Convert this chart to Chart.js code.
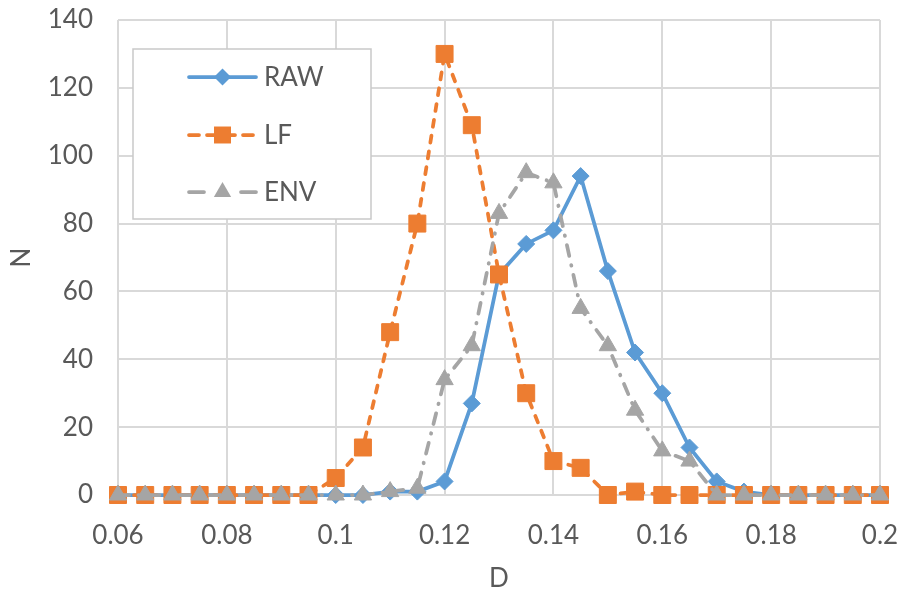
<!DOCTYPE html>
<html>
<head>
<meta charset="utf-8">
<script src="https://cdn.jsdelivr.net/npm/chart.js"></script>
<style>
  html, body { margin: 0; padding: 0; background: #fff; }
</style>
</head>
<body>
<canvas id="Chart" width="902" height="594"></canvas>
<script>
// D values (x positions)
const dValues = [0.06, 0.065, 0.07, 0.075, 0.08, 0.085, 0.09, 0.095, 0.1, 0.105,
  0.11, 0.115, 0.12, 0.125, 0.13, 0.135, 0.14, 0.145, 0.15, 0.155,
  0.16, 0.165, 0.17, 0.175, 0.18, 0.185, 0.19, 0.195, 0.2];

const rawValues = [0, 0, 0, 0, 0, 0, 0, 0, 0, 0,
  1, 1, 4, 27, 65, 74, 78, 94, 66, 42,
  30, 14, 4, 1, 0, 0, 0, 0, 0];

const lfValues = [0, 0, 0, 0, 0, 0, 0, 0, 5, 14,
  48, 80, 130, 109, 65, 30, 10, 8, 0, 1,
  0, 0, 0, 0, 0, 0, 0, 0, 0];

const envValues = [0, 0, 0, 0, 0, 0, 0, 0, 0, 0,
  1, 2, 34, 44, 83, 95, 92, 55, 44, 25,
  13, 10, 0, 0, 0, 0, 0, 0, 0];

const seriesNames = ['RAW', 'LF', 'ENV'];
const xTicks = [0.06, 0.08, 0.1, 0.12, 0.14, 0.16, 0.18, 0.2];
const yTicks = [0, 20, 40, 60, 80, 100, 120, 140];

const FONT = 'Lato, "Open Sans", sans-serif';
const TEXT = '#595959';

function toPoints(values) {
  return dValues.map((d, i) => ({ x: d, y: values[i] }));
}

// draws a marker shape (used for the legend samples)
function drawMarker(ctx, style, x, y, r, color) {
  ctx.save();
  ctx.fillStyle = color;
  ctx.beginPath();
  if (style === 'rectRot') {
    ctx.moveTo(x - r, y);
    ctx.lineTo(x, y - r);
    ctx.lineTo(x + r, y);
    ctx.lineTo(x, y + r);
  } else if (style === 'rect') {
    const s = r * Math.SQRT1_2;
    ctx.rect(x - s, y - s, 2 * s, 2 * s);
  } else {
    const a = 2 * Math.PI / 3;
    ctx.moveTo(x, y - r);
    ctx.lineTo(x + Math.sin(a) * r, y - Math.cos(a) * r);
    ctx.lineTo(x + Math.sin(2 * a) * r, y - Math.cos(2 * a) * r);
  }
  ctx.closePath();
  ctx.fill();
  ctx.restore();
}

// no label overflow padding, the layout padding handles it
function noOverflow(s) {
  s.paddingTop = 0;
  s.paddingBottom = 0;
  s.paddingLeft = 0;
  s.paddingRight = 0;
}

// Excel-like legend box inside the plot area
const boxLegend = {
  id: 'boxLegend',
  afterDatasetsDraw(chart) {
    const ctx = chart.ctx;
    const area = chart.chartArea;
    const bx = area.left + 15, by = area.top + 29, bw = 238, bh = 170;
    ctx.save();
    ctx.fillStyle = '#fff';
    ctx.fillRect(bx, by, bw, bh);
    ctx.strokeStyle = '#c9c9c9';
    ctx.lineWidth = 1.5;
    ctx.strokeRect(bx, by, bw, bh);

    const rows = [28, 86, 143];
    chart.data.datasets.forEach((ds, i) => {
      const y = by + rows[i];
      const x1 = bx + 56, x2 = bx + 123, xm = (x1 + x2) / 2;
      ctx.save();
      ctx.strokeStyle = ds.borderColor;
      ctx.lineWidth = ds.borderWidth;
      ctx.lineCap = 'round';
      ctx.setLineDash(ds.legendDash || []);
      ctx.beginPath();
      ctx.moveTo(x1, y);
      ctx.lineTo(x2, y);
      ctx.stroke();
      ctx.restore();
      drawMarker(ctx, ds.pointStyle, xm, y, ds.pointRadius, ds.pointBackgroundColor);

      ctx.fillStyle = TEXT;
      ctx.font = '26px ' + FONT;
      ctx.textBaseline = 'middle';
      ctx.textAlign = 'left';
      ctx.fillText(ds.label, bx + 131, y + 1);
    });
    ctx.restore();
  }
};

new Chart(document.getElementById('Chart'), {
  type: 'line',
  data: {
    datasets: [{
      label: seriesNames[0],
      data: toPoints(rawValues),
      borderColor: '#5b9bd5',
      backgroundColor: '#5b9bd5',
      pointBackgroundColor: '#5b9bd5',
      pointBorderColor: '#5b9bd5',
      borderWidth: 3.75,
      pointStyle: 'rectRot',
      pointRadius: 8.5,
      pointBorderWidth: 1,
      legendDash: [],
      order: 2,
      clip: false
    }, {
      label: seriesNames[1],
      data: toPoints(lfValues),
      borderColor: '#ed7d31',
      backgroundColor: '#ed7d31',
      pointBackgroundColor: '#ed7d31',
      pointBorderColor: '#ed7d31',
      borderWidth: 3.75,
      borderDash: [7, 9],
      borderCapStyle: 'round',
      pointStyle: 'rect',
      pointRadius: 12,
      pointBorderWidth: 1,
      legendDash: [10, 8],
      order: 1,
      clip: false
    }, {
      label: seriesNames[2],
      data: toPoints(envValues),
      borderColor: '#a5a5a5',
      backgroundColor: '#a5a5a5',
      pointBackgroundColor: '#a5a5a5',
      pointBorderColor: '#a5a5a5',
      borderWidth: 3.75,
      borderDash: [11, 9.5, 0.5, 9.5],
      borderCapStyle: 'round',
      pointStyle: 'triangle',
      pointRadius: 10,
      pointBorderWidth: 1,
      legendDash: [15, 37],
      order: 0,
      clip: false
    }]
  },
  options: {
    responsive: false,
    animation: false,
    layout: { autoPadding: false, padding: { top: 20, right: 22, left: 0, bottom: 0 } },
    plugins: {
      legend: { display: false },
      tooltip: { enabled: false }
    },
    scales: {
      x: {
        type: 'linear',
        min: xTicks[0],
        max: xTicks[xTicks.length - 1],
        afterBuildTicks: s => { s.ticks = xTicks.map(v => ({ value: v })); },
        afterFit: s => { s.height = 99; noOverflow(s); },
        grid: { color: '#d9d9d9', lineWidth: 2, drawTicks: false },
        border: { display: false },
        ticks: {
          color: TEXT,
          font: { family: FONT, size: 26 },
          padding: 25,
          maxRotation: 0,
          callback: v => String(+v.toFixed(2))
        },
        title: {
          display: true, text: 'D', color: TEXT,
          font: { family: FONT, size: 26 },
          padding: { top: 0, bottom: 0 }
        }
      },
      y: {
        min: yTicks[0],
        max: yTicks[yTicks.length - 1],
        afterBuildTicks: s => { s.ticks = yTicks.map(v => ({ value: v })); },
        afterFit: s => { s.width = 118; noOverflow(s); },
        grid: { color: '#d9d9d9', lineWidth: 2, drawTicks: false },
        border: { display: false },
        ticks: {
          color: TEXT,
          font: { family: FONT, size: 26 },
          padding: 25
        },
        title: {
          display: true, text: 'N', color: TEXT,
          font: { family: FONT, size: 26 },
          padding: { top: 6, bottom: 0 }
        }
      }
    }
  },
  plugins: [boxLegend]
});
</script>
</body>
</html>
